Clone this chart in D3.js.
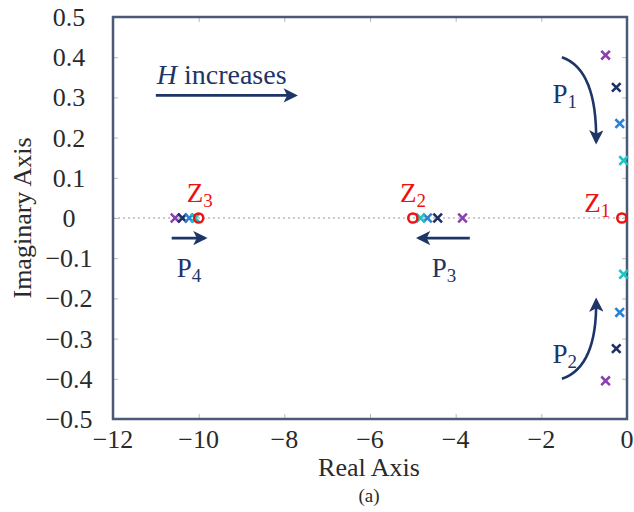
<!DOCTYPE html>
<html>
<head>
<meta charset="utf-8">
<script src="https://cdn.jsdelivr.net/npm/d3@7"></script>
<style>
  body { margin: 0; background: #fff; }
  text { font-family: "Liberation Serif", "Times New Roman", serif; }
</style>
</head>
<body>
<div id="chart"></div>
<script>
// Tick values
const xTicks = [-12, -10, -8, -6, -4, -2, 0];
const yTicks = [0.5, 0.4, 0.3, 0.2, 0.1, 0, -0.1, -0.2, -0.3, -0.4, -0.5];

// Poles for four increasing H values (colour per H step)
const poleColors = ["#8b3fb3", "#1c2f66", "#2b82d4", "#1fc3c3"];
const polesUpper = [
    { re: -0.5, im: 0.405 }, { re: -0.25, im: 0.325 },
    { re: -0.17, im: 0.235 }, { re: -0.08, im: 0.143 }
];
const polesLower = [
    { re: -0.5, im: -0.405 }, { re: -0.25, im: -0.325 },
    { re: -0.17, im: -0.235 }, { re: -0.08, im: -0.14 }
];
const polesMid = [
    { re: -3.84, im: 0 }, { re: -4.42, im: 0 },
    { re: -4.66, im: 0 }, { re: -4.82, im: 0 }
];
const polesFar = [
    { re: -10.55, im: 0 }, { re: -10.38, im: 0 },
    { re: -10.22, im: 0 }, { re: -10.08, im: 0 }
];

// Zeros (with label anchor in data units)
const zeros = [
    { re: -0.12, im: 0, label: "1", lx: -1.0, ly: 0.015 },
    { re: -5.0, im: 0, label: "2", lx: -5.3, ly: 0.04 },
    { re: -10.0, im: 0, label: "3", lx: -10.28, ly: 0.04 }
];

const margin = { top: 17, right: 7, bottom: 93, left: 113 };
const width = 634 - margin.left - margin.right;
const height = 512 - margin.top - margin.bottom;

const navy = "#1d3567";
const frameColor = "#4b5877";
const textColor = "#2a2a2a";

const svg = d3.select("#chart")
    .append("svg")
    .attr("width", 634)
    .attr("height", 512);

const defs = svg.append("defs");
defs.append("marker")
    .attr("id", "head")
    .attr("viewBox", "0 0 10 10")
    .attr("refX", 8).attr("refY", 5)
    .attr("markerWidth", 6.5).attr("markerHeight", 5.5)
    .attr("markerUnits", "strokeWidth")
    .attr("orient", "auto")
    .append("path")
    .attr("d", "M0,0 L10,5 L0,10 L2.5,5 Z")
    .attr("fill", navy);

const g = svg.append("g")
    .attr("transform", `translate(${margin.left},${margin.top})`);

const x = d3.scaleLinear().domain([-12, 0]).range([0, width]);
const y = d3.scaleLinear().domain([-0.5, 0.5]).range([height, 0]);

// inward ticks on all four sides
const tickStyle = sel => {
    sel.select(".domain").remove();
    sel.selectAll(".tick line").attr("stroke", "#b8b8b8").attr("stroke-width", 1);
    sel.selectAll(".tick text").remove();
};
g.append("g").attr("transform", `translate(0,${height})`)
    .call(d3.axisBottom(x).tickValues(xTicks).tickSize(-5)).call(tickStyle);
g.append("g")
    .call(d3.axisTop(x).tickValues(xTicks).tickSize(-5)).call(tickStyle);
g.append("g")
    .call(d3.axisLeft(y).tickValues(yTicks).tickSize(-5)).call(tickStyle);
g.append("g").attr("transform", `translate(${width},0)`)
    .call(d3.axisRight(y).tickValues(yTicks).tickSize(-5)).call(tickStyle);

const minus = v => String(v).replace("-", "\u2212");

// tick labels
g.selectAll(".xl").data(xTicks).enter().append("text")
    .attr("x", d => x(d)).attr("y", height + 29)
    .attr("text-anchor", "middle")
    .attr("font-size", 26).attr("fill", textColor)
    .text(minus);
g.selectAll(".yl").data(yTicks).enter().append("text")
    .attr("x", -44).attr("y", d => y(d) + 9)
    .attr("text-anchor", "middle")
    .attr("font-size", 26).attr("fill", textColor)
    .text(minus);

// axis titles
svg.append("text")
    .attr("x", margin.left + width / 2 - 1).attr("y", 476)
    .attr("text-anchor", "middle").attr("font-size", 26).attr("fill", textColor)
    .text("Real Axis");
svg.append("text")
    .attr("x", margin.left + width / 2 - 1).attr("y", 502)
    .attr("text-anchor", "middle").attr("font-size", 19).attr("fill", textColor)
    .text("(a)");
svg.append("text")
    .attr("transform", `translate(31,${margin.top + y(0)}) rotate(-90)`)
    .attr("text-anchor", "middle").attr("font-size", 26).attr("fill", textColor)
    .text("Imaginary Axis");

// dotted real axis line
g.append("line")
    .attr("x1", 0).attr("x2", width)
    .attr("y1", y(0)).attr("y2", y(0))
    .attr("stroke", "#bbb").attr("stroke-width", 1.5)
    .attr("stroke-dasharray", "2,3");

// frame
g.append("rect")
    .attr("width", width).attr("height", height)
    .attr("fill", "none").attr("stroke", frameColor).attr("stroke-width", 2.5);

// poles as crosses
const s = 4.3;
[polesUpper, polesLower, polesMid, polesFar].forEach(set => {
    g.selectAll(null).data(set).enter().append("path")
        .attr("d", d => {
            const px = x(d.re), py = y(d.im);
            return `M${px - s},${py - s}L${px + s},${py + s}M${px - s},${py + s}L${px + s},${py - s}`;
        })
        .attr("stroke", (d, i) => poleColors[i])
        .attr("stroke-width", 2.6)
        .attr("fill", "none");
});

// zeros as circles
g.selectAll(".zero").data(zeros).enter().append("circle")
    .attr("cx", d => x(d.re)).attr("cy", d => y(d.im))
    .attr("r", 4.6)
    .attr("fill", "none").attr("stroke", "#f01010").attr("stroke-width", 2.5);

const zl = g.selectAll(".zl").data(zeros).enter().append("text")
    .attr("x", d => x(d.lx)).attr("y", d => y(d.ly))
    .attr("font-size", 27).attr("fill", "#f01010");
zl.append("tspan").text("Z");
zl.append("tspan").attr("font-size", 19).attr("dy", 5).text(d => d.label);

// straight arrows
const arrows = [
    { x1: -11.0, x2: -7.75, y: 0.305 },
    { x1: -10.63, x2: -9.86, y: -0.05 },
    { x1: -3.67, x2: -4.86, y: -0.05 }
];
g.selectAll(".arr").data(arrows).enter().append("line")
    .attr("x1", d => x(d.x1)).attr("x2", d => x(d.x2))
    .attr("y1", d => y(d.y)).attr("y2", d => y(d.y))
    .attr("stroke", navy).attr("stroke-width", 2.6)
    .attr("marker-end", "url(#head)");

// curved arrows P1 / P2
const curves = [
    { sx: -1.52, sy: 0.4, cx: -0.7, cy: 0.37, ex: -0.72, ey: 0.19 },
    { sx: -1.52, sy: -0.4, cx: -0.7, cy: -0.37, ex: -0.72, ey: -0.205 }
];
g.selectAll(".crv").data(curves).enter().append("path")
    .attr("d", d => `M${x(d.sx)},${y(d.sy)}Q${x(d.cx)},${y(d.cy)} ${x(d.ex)},${y(d.ey)}`)
    .attr("fill", "none").attr("stroke", navy).attr("stroke-width", 2.6)
    .attr("marker-end", "url(#head)");

// annotation labels (left edge in data units)
const labels = [
    { t: "P", sub: "1", x: -1.74, y: 0.287 },
    { t: "P", sub: "2", x: -1.74, y: -0.36 },
    { t: "P", sub: "3", x: -4.56, y: -0.148 },
    { t: "P", sub: "4", x: -10.51, y: -0.148 }
];
const pl = g.selectAll(".pl").data(labels).enter().append("text")
    .attr("x", d => x(d.x)).attr("y", d => y(d.y))
    .attr("font-size", 27).attr("fill", navy);
pl.append("tspan").text(d => d.t);
pl.append("tspan").attr("font-size", 19).attr("dy", 5).text(d => d.sub);

const hl = g.append("text")
    .attr("x", x(-10.98)).attr("y", y(0.333))
    .attr("font-size", 28).attr("fill", navy);
hl.append("tspan").attr("font-style", "italic").text("H");
hl.append("tspan").text(" increases");
</script>
</body>
</html>
